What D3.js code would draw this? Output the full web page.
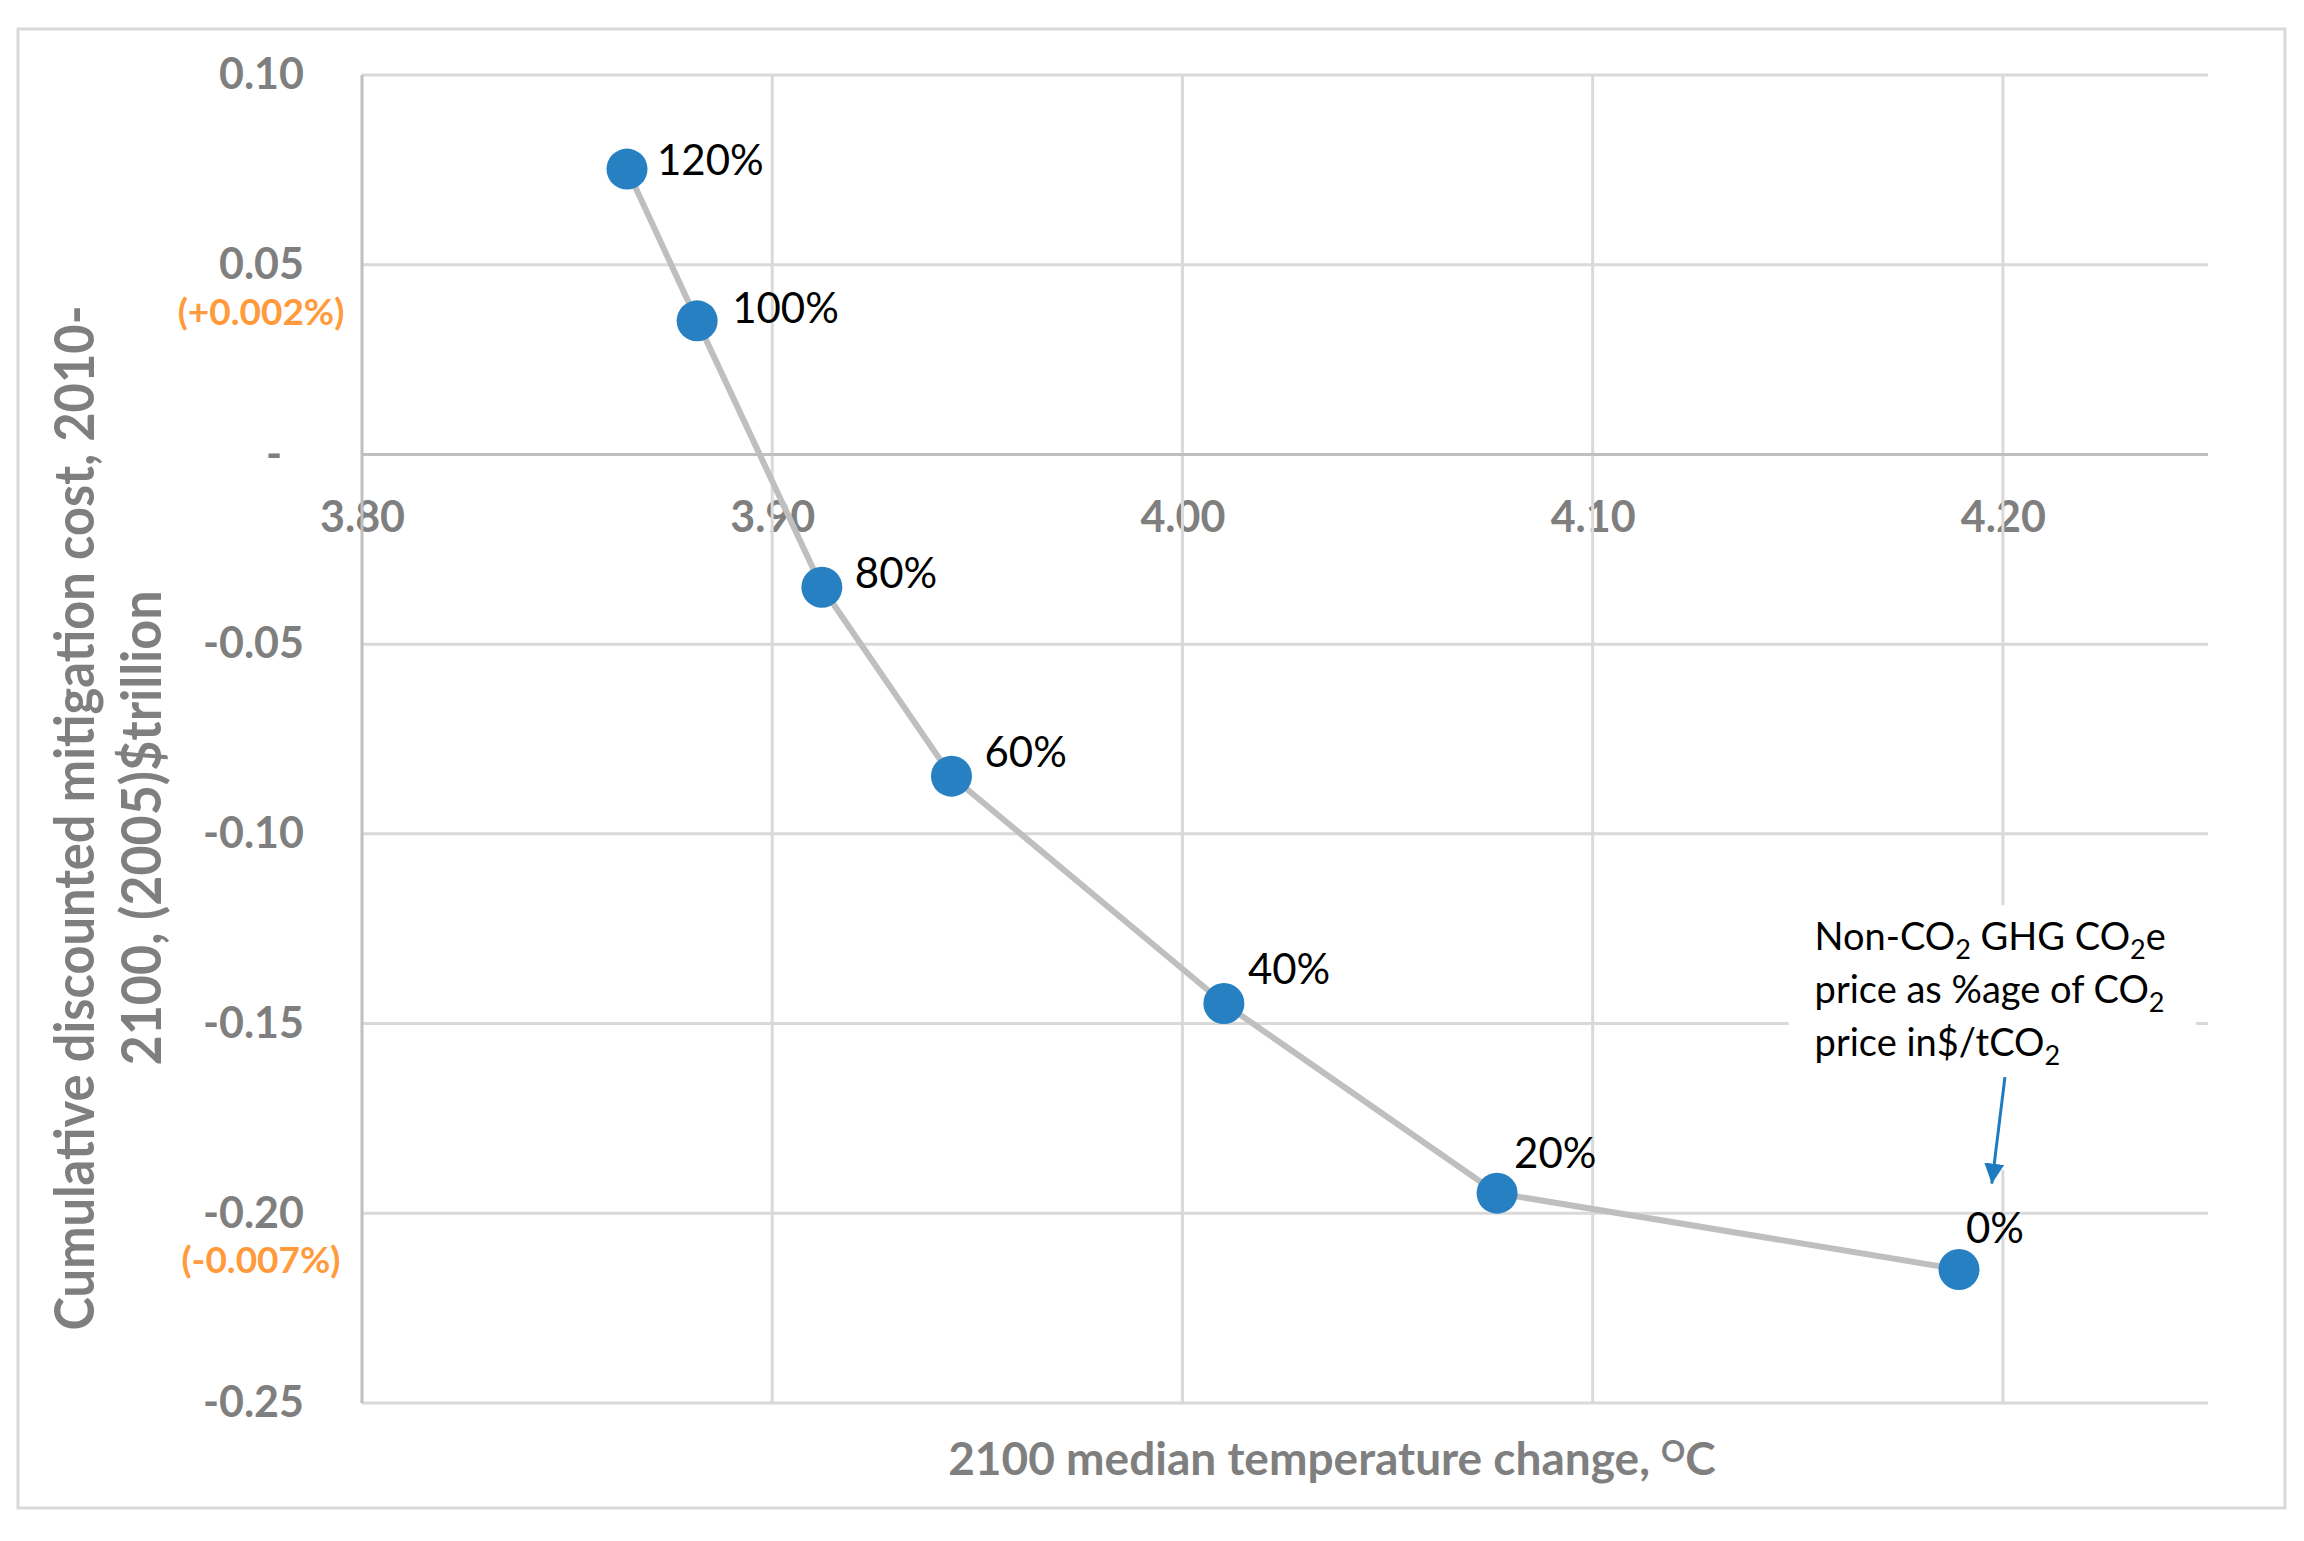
<!DOCTYPE html>
<html>
<head>
<meta charset="utf-8">
<script src="https://cdn.jsdelivr.net/npm/d3@7"></script>
<style>
body { margin: 0; background: #fff; }
text { font-family: Lato, "Open Sans", sans-serif; }
</style>
</head>
<body>
<div id="chart"></div>
<script>
const shares = ["120%", "100%", "80%", "60%", "40%", "20%", "0%"]
const tempChange = [3.8646, 3.8817, 3.9121, 3.9437, 4.0101, 4.0767, 4.1893]
const mitigationCost = [0.0752, 0.0352, -0.0350, -0.0848, -0.1447, -0.1947, -0.2148]

const xTicks = [3.8, 3.9, 4.0, 4.1, 4.2]
const yTicks = [0.10, 0.05, 0, -0.05, -0.10, -0.15, -0.20, -0.25]
const yNoteValues = [0.05, -0.20]
const yNoteTexts = ["(+0.002%)", "(-0.007%)"]

// where each data label sits relative to its marker (left edge, baseline)
const labelOffsets = [[30, 6], [35, 2], [33, 1], [33, -9], [24, -19], [17, -25], [7, -26]]

const annotationLines = [
    [["Non-CO", 0], ["2", 1], [" GHG CO", 0], ["2", 1], ["e", 0]],
    [["price as %age of CO", 0], ["2", 1]],
    [["price in$/tCO", 0], ["2", 1]]
]

const width = 2304, height = 1541
const margin = {top: 75, right: 96, bottom: 138, left: 362}

const gray = "#7f7f7f", gridColor = "#d9d9d9", axisColor = "#bfbfbf"

const svg = d3.select("#chart").append("svg")
    .attr("width", width).attr("height", height)
    .attr("viewBox", "0 0 " + width + " " + height)

svg.append("rect")
    .attr("x", 18).attr("y", 29).attr("width", 2267).attr("height", 1479)
    .attr("fill", "#fff").attr("stroke", gridColor).attr("stroke-width", 3)

const x = d3.scaleLinear([3.8, 4.25], [margin.left, width - margin.right])
const y = d3.scaleLinear([-0.25, 0.10], [height - margin.bottom, margin.top])

// tick labels first, lines are drawn on top of them like in the original
const xAxis = svg.append("g")
    .attr("transform", "translate(0," + y(0) + ")")
    .call(d3.axisBottom(x).tickValues(xTicks).tickSize(0).tickFormat(d => d.toFixed(2)))
xAxis.select(".domain").remove()
xAxis.selectAll("text").attr("y", 78).attr("dy", 0)
    .attr("font-size", 43).attr("font-weight", "bold").attr("fill", gray)
    .attr("font-family", "Lato, sans-serif")

const yAxis = svg.append("g")
    .attr("transform", "translate(" + margin.left + ",0)")
    .call(d3.axisLeft(y).tickValues(yTicks).tickSize(0).tickPadding(58)
        .tickFormat(d => d === 0 ? "-" : d.toFixed(2)))
yAxis.select(".domain").remove()
yAxis.selectAll("text")
    .attr("font-size", 43).attr("font-weight", "bold").attr("fill", gray)
    .attr("font-family", "Lato, sans-serif")
    .filter(d => d === 0).attr("x", -80)

svg.append("g").selectAll("text").data(yNoteValues).join("text")
    .attr("x", 261).attr("y", d => y(d) + 60)
    .attr("text-anchor", "middle").attr("font-size", 37).attr("font-weight", "bold")
    .attr("fill", "#ff9a3d")
    .text((d, i) => yNoteTexts[i])

// grid
const grid = svg.append("g").attr("stroke", gridColor).attr("stroke-width", 3)
grid.selectAll(".h").data(yTicks.filter(d => d !== 0)).join("line").attr("class", "h")
    .attr("x1", x(3.8)).attr("x2", x(4.25))
    .attr("y1", d => y(d)).attr("y2", d => y(d))
grid.selectAll(".v").data(xTicks.slice(1)).join("line").attr("class", "v")
    .attr("x1", d => x(d)).attr("x2", d => x(d))
    .attr("y1", y(0.10)).attr("y2", y(-0.25))

svg.append("line").attr("stroke", axisColor).attr("stroke-width", 3)
    .attr("x1", x(3.8)).attr("x2", x(4.25)).attr("y1", y(0)).attr("y2", y(0))
svg.append("line").attr("stroke", axisColor).attr("stroke-width", 3)
    .attr("x1", x(3.8)).attr("x2", x(3.8)).attr("y1", y(0.10)).attr("y2", y(-0.25))

// axis titles
svg.append("text")
    .attr("transform", "translate(94,818) rotate(-90)")
    .attr("text-anchor", "middle").attr("font-size", 56).attr("font-weight", "bold")
    .attr("fill", gray).attr("textLength", 1025).attr("lengthAdjust", "spacingAndGlyphs")
    .text("Cumulative discounted mitigation cost, 2010-")
svg.append("text")
    .attr("transform", "translate(161,828) rotate(-90)")
    .attr("text-anchor", "middle").attr("font-size", 56).attr("font-weight", "bold")
    .attr("fill", gray).attr("textLength", 475).attr("lengthAdjust", "spacingAndGlyphs")
    .text("2100, (2005)$trillion")

const xTitle = svg.append("text")
    .attr("x", 1332).attr("y", 1475)
    .attr("text-anchor", "middle").attr("font-size", 46).attr("font-weight", "bold")
    .attr("fill", gray)
xTitle.append("tspan").text("2100 median temperature change, ")
xTitle.append("tspan").attr("font-size", 30).attr("dy", -13).text("O")
xTitle.append("tspan").attr("dy", 13).text("C")

// series
const pts = shares.map((s, i) => ({label: s, t: tempChange[i], c: mitigationCost[i]}))

svg.append("path").datum(pts)
    .attr("fill", "none").attr("stroke", "#bfbfbf").attr("stroke-width", 6)
    .attr("stroke-linejoin", "round")
    .attr("d", d3.line().x(d => x(d.t)).y(d => y(d.c)))

svg.append("g").selectAll("circle").data(pts).join("circle")
    .attr("cx", d => x(d.t)).attr("cy", d => y(d.c)).attr("r", 20.5)
    .attr("fill", "#2680c2")

svg.append("g").selectAll("text").data(pts).join("text")
    .attr("x", (d, i) => x(d.t) + labelOffsets[i][0])
    .attr("y", (d, i) => y(d.c) + labelOffsets[i][1])
    .attr("font-size", 42).attr("fill", "#000")
    .text(d => d.label)

// annotation box + arrow
svg.append("rect")
    .attr("x", x(4.1478)).attr("y", y(-0.1188))
    .attr("width", x(4.2470) - x(4.1478)).attr("height", y(-0.1886) - y(-0.1188))
    .attr("fill", "#fff")

const note = svg.append("g")
annotationLines.forEach((parts, li) => {
    const t = note.append("text")
        .attr("x", x(4.1541)).attr("y", y(-0.1188) + 45 + li * 53)
        .attr("font-size", 38).attr("fill", "#000")
    parts.forEach((p, pi) => {
        const ts = t.append("tspan").text(p[0])
        if (p[1]) ts.attr("font-size", 27).attr("dy", 9)
        else if (pi > 0 && parts[pi - 1][1]) ts.attr("dy", -9)
    })
})

svg.append("defs").append("marker").attr("id", "arrow")
    .attr("viewBox", "0 0 10 10").attr("refX", 10).attr("refY", 5)
    .attr("markerUnits", "userSpaceOnUse").attr("markerWidth", 20).attr("markerHeight", 20)
    .attr("orient", "auto")
    .append("path").attr("d", "M0,0L10,5L0,10z").attr("fill", "#1f7bc0")

svg.append("line")
    .attr("x1", x(4.2005)).attr("y1", y(-0.1641))
    .attr("x2", x(4.1973)).attr("y2", y(-0.1922))
    .attr("stroke", "#1f7bc0").attr("stroke-width", 3)
    .attr("marker-end", "url(#arrow)")
</script>
</body>
</html>
